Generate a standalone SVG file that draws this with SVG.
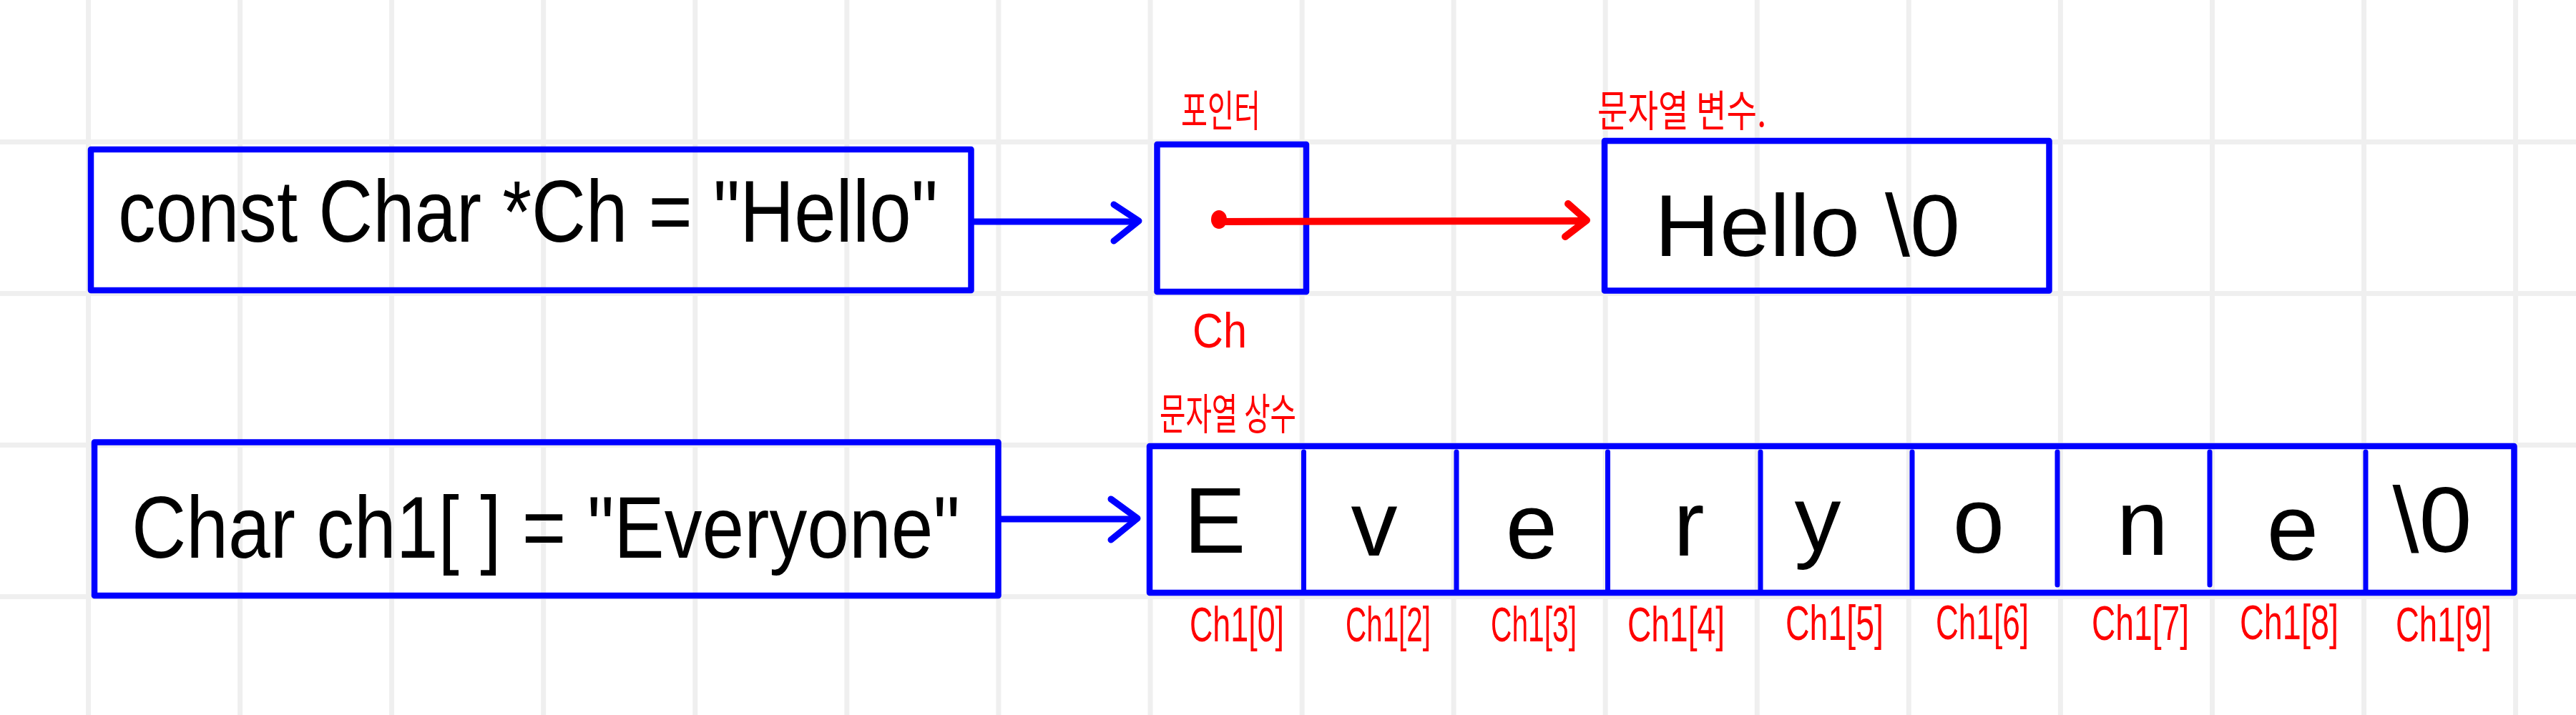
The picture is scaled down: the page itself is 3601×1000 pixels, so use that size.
<svg xmlns="http://www.w3.org/2000/svg" width="3601" height="1000" viewBox="0 0 3601 1000">
<style>
.grid line{stroke:#efefef;stroke-width:7}
.box{fill:none;stroke:#0000ff;stroke-width:8.5;stroke-linejoin:round}
.div{stroke:#0000ff;stroke-width:7;stroke-linecap:round}
.code{font-family:"Liberation Sans",Arial,sans-serif;fill:#000;font-size:122px}
.cell{font-family:"Liberation Sans",Arial,sans-serif;fill:#000;font-size:130px;text-anchor:middle}
.lbl{font-family:"Liberation Sans",Arial,sans-serif;fill:#ff0000;font-size:68px}
.kr{font-family:"Noto Sans CJK KR","Noto Sans",sans-serif;fill:#ff0000;font-size:60px}
.blue{fill:none;stroke:#0000ff;stroke-width:9;stroke-linecap:round;stroke-linejoin:round}
.red{fill:none;stroke:#ff0000;stroke-width:10;stroke-linecap:round;stroke-linejoin:round}
</style>
<rect width="3601" height="1000" fill="#ffffff"/>
<g class="grid">
<line x1="123.5" y1="0" x2="123.5" y2="1000"/>
<line x1="335.6" y1="0" x2="335.6" y2="1000"/>
<line x1="547.6" y1="0" x2="547.6" y2="1000"/>
<line x1="759.7" y1="0" x2="759.7" y2="1000"/>
<line x1="971.8" y1="0" x2="971.8" y2="1000"/>
<line x1="1183.9" y1="0" x2="1183.9" y2="1000"/>
<line x1="1395.9" y1="0" x2="1395.9" y2="1000"/>
<line x1="1608" y1="0" x2="1608" y2="1000"/>
<line x1="1820.1" y1="0" x2="1820.1" y2="1000"/>
<line x1="2032.1" y1="0" x2="2032.1" y2="1000"/>
<line x1="2244.2" y1="0" x2="2244.2" y2="1000"/>
<line x1="2456.3" y1="0" x2="2456.3" y2="1000"/>
<line x1="2668.3" y1="0" x2="2668.3" y2="1000"/>
<line x1="2880.4" y1="0" x2="2880.4" y2="1000"/>
<line x1="3092.5" y1="0" x2="3092.5" y2="1000"/>
<line x1="3304.6" y1="0" x2="3304.6" y2="1000"/>
<line x1="3516.6" y1="0" x2="3516.6" y2="1000"/>
<line x1="0" y1="198.5" x2="3601" y2="198.5"/>
<line x1="0" y1="410.5" x2="3601" y2="410.5"/>
<line x1="0" y1="622.5" x2="3601" y2="622.5"/>
<line x1="0" y1="834.5" x2="3601" y2="834.5"/>
</g>

<g id="decl-pointer">
<rect class="box" x="127" y="209" width="1230.5" height="197"/>
<text class="code" x="165" y="338" textLength="1146" lengthAdjust="spacingAndGlyphs">const Char *Ch = "Hello"</text>
</g>

<g id="pointer-ch">
<rect class="box" x="1617.5" y="202" width="208.5" height="206"/>
<text class="kr" x="1651" y="177" textLength="111" lengthAdjust="spacingAndGlyphs">포인터</text>
<text class="lbl" x="1667" y="486" font-size="78" textLength="76" lengthAdjust="spacingAndGlyphs">Ch</text>
</g>

<g id="string-var">
<rect class="box" x="2243" y="197" width="621.5" height="209.5"/>
<text class="kr" x="2233" y="177" textLength="236" lengthAdjust="spacingAndGlyphs">문자열 변수.</text>
<text class="code" x="2313" y="358" font-size="125" textLength="427" lengthAdjust="spacingAndGlyphs">Hello \0</text>
</g>

<g id="decl-array">
<rect class="box" x="132" y="618.5" width="1263.5" height="214.5"/>
<text class="code" x="184" y="780" textLength="1158" lengthAdjust="spacingAndGlyphs">Char ch1[ ] = "Everyone"</text>
</g>

<g id="string-const">
<rect class="box" x="1607" y="624" width="1907.5" height="205"/>
<line class="div" x1="1822.5" y1="632" x2="1822.5" y2="826"/>
<line class="div" x1="2036" y1="632" x2="2036" y2="826"/>
<line class="div" x1="2247.5" y1="632" x2="2247.5" y2="826"/>
<line class="div" x1="2461" y1="632" x2="2461" y2="826"/>
<line class="div" x1="2673" y1="632" x2="2673" y2="826"/>
<line class="div" x1="2876" y1="632" x2="2876" y2="818"/>
<line class="div" x1="3089" y1="632" x2="3089" y2="818"/>
<line class="div" x1="3307" y1="632" x2="3307" y2="826"/>
<text class="kr" x="1621" y="601" textLength="191" lengthAdjust="spacingAndGlyphs">문자열 상수</text>
<text class="cell" x="1698" y="773" font-size="112">E</text>
<text class="cell" x="1921" y="777">v</text>
<text class="cell" x="2141" y="781">e</text>
<text class="cell" x="2361" y="777">r</text>
<text class="cell" x="2541" y="770">y</text>
<text class="cell" x="2766" y="773">o</text>
<text class="cell" x="2995" y="776">n</text>
<text class="cell" x="3205" y="783">e</text>
<text class="cell" x="3400" y="772" font-size="100" textLength="111" lengthAdjust="spacingAndGlyphs">\0</text>
<text class="lbl" x="1663" y="897" textLength="132" lengthAdjust="spacingAndGlyphs">Ch1[0]</text>
<text class="lbl" x="1881" y="897" textLength="119" lengthAdjust="spacingAndGlyphs">Ch1[2]</text>
<text class="lbl" x="2084" y="897" textLength="120" lengthAdjust="spacingAndGlyphs">Ch1[3]</text>
<text class="lbl" x="2275" y="897" textLength="136" lengthAdjust="spacingAndGlyphs">Ch1[4]</text>
<text class="lbl" x="2496" y="895" textLength="137" lengthAdjust="spacingAndGlyphs">Ch1[5]</text>
<text class="lbl" x="2706" y="894" textLength="130" lengthAdjust="spacingAndGlyphs">Ch1[6]</text>
<text class="lbl" x="2924" y="895" textLength="136" lengthAdjust="spacingAndGlyphs">Ch1[7]</text>
<text class="lbl" x="3131" y="894" textLength="138" lengthAdjust="spacingAndGlyphs">Ch1[8]</text>
<text class="lbl" x="3349" y="897" textLength="134" lengthAdjust="spacingAndGlyphs">Ch1[9]</text>
</g>

<g id="connectors">
<line class="blue" x1="1362" y1="310" x2="1590" y2="310"/>
<polyline class="blue" points="1557,286 1592,309 1557,337"/>
<line class="blue" x1="1400" y1="726" x2="1588" y2="726"/>
<polyline class="blue" points="1553,698 1590,725 1553,755"/>
<ellipse cx="1704" cy="307" rx="11" ry="13" fill="#ff0000"/>
<line class="red" x1="1704" y1="310" x2="2216" y2="309"/>
<polyline class="red" points="2192,285 2218,308 2188,331"/>
</g>
</svg>
